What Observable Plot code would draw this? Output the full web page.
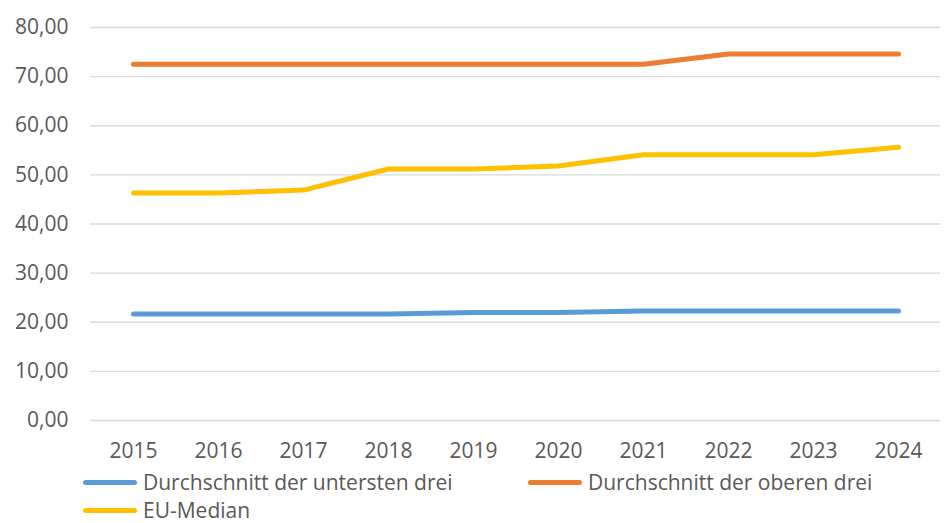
<!DOCTYPE html>
<html>
<head>
<meta charset="utf-8">
<script src="https://cdn.jsdelivr.net/npm/d3@7"></script>
<script src="https://cdn.jsdelivr.net/npm/@observablehq/plot@0.6"></script>
<style>
  html, body { margin: 0; padding: 0; background: #fff; overflow: hidden; }
  #wrap { position: relative; width: 949px; height: 523px; font-family: "Open Sans", Lato, sans-serif; color: #595959; }
  .leg { position: absolute; display: flex; align-items: center; font-size: 21px; line-height: 21px; height: 21px; white-space: nowrap; }
  .sw { display: inline-block; width: 54px; height: 5px; border-radius: 2.5px; margin-right: 6px; }
</style>
</head>
<body>
<div id="wrap"></div>
<script>
const years = ["2015","2016","2017","2018","2019","2020","2021","2022","2023","2024"];
const seriesNames = ["Durchschnitt der untersten drei", "Durchschnitt der oberen drei", "EU-Median"];
const seriesColors = ["#5B9BD5", "#ED7D31", "#FFC000"];
const untersten = [21.7, 21.7, 21.7, 21.7, 22.0, 22.0, 22.3, 22.3, 22.3, 22.3];
const oberen   = [72.5, 72.5, 72.5, 72.5, 72.5, 72.5, 72.5, 74.6, 74.6, 74.6];
const euMedian = [46.3, 46.3, 46.9, 51.2, 51.2, 51.8, 54.1, 54.1, 54.1, 55.6];
const yTicks = [0, 10, 20, 30, 40, 50, 60, 70, 80];

const allSeries = [untersten, oberen, euMedian];
const data = [];
allSeries.forEach((vals, i) => vals.forEach((v, j) => data.push({year: years[j], value: v, series: seriesNames[i]})));

const chart = Plot.plot({
  width: 949,
  height: 470,
  marginTop: 27,
  marginBottom: 50,
  marginLeft: 90,
  marginRight: 9,
  style: { fontFamily: "'Open Sans', Lato, sans-serif", fontSize: "21px", color: "#595959", background: "transparent" },
  x: { type: "point", domain: years, padding: 0.5, label: null, tickSize: 0, tickPadding: 23 },
  y: { domain: [0, 80], ticks: yTicks, label: null, tickSize: 0, tickPadding: 22, tickFormat: d => d.toFixed(2).replace(".", ",") },
  color: { domain: seriesNames, range: seriesColors },
  marks: [
    Plot.ruleY(yTicks, { stroke: "#D9D9D9", strokeWidth: 1.3 }),
    Plot.line(data, { x: "year", y: "value", z: "series", stroke: "series", strokeWidth: 5, strokeLinecap: "round", strokeLinejoin: "round" })
  ]
});
const wrap = document.getElementById("wrap");
wrap.appendChild(chart);

const legPos = [[83, 472], [528, 472], [83, 500]];
seriesNames.forEach((name, i) => {
  const d = document.createElement("div");
  d.className = "leg";
  d.style.left = legPos[i][0] + "px";
  d.style.top = legPos[i][1] + "px";
  d.innerHTML = `<span class="sw" style="background:${seriesColors[i]}"></span><span>${name}</span>`;
  wrap.appendChild(d);
});
</script>
</body>
</html>
